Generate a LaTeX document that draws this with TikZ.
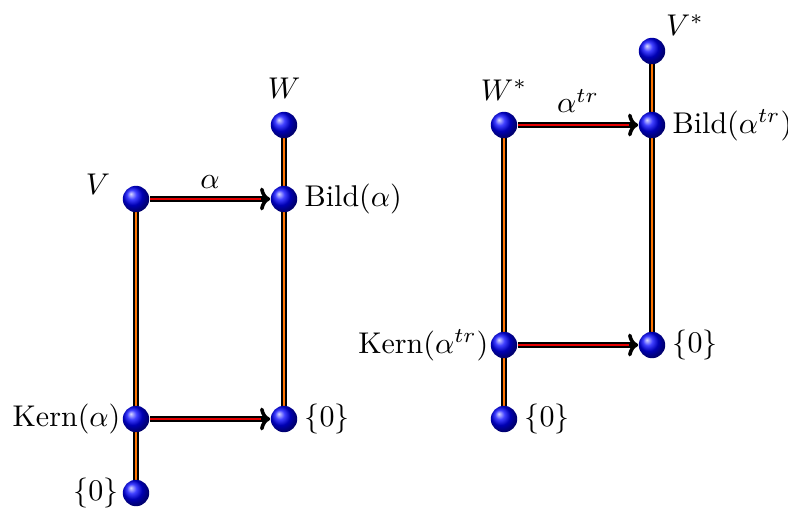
\documentclass[tikz,border=0pt]{standalone}
\usetikzlibrary{arrows.meta}
\begin{document}
\begin{tikzpicture}[x=0.3333pt,y=-0.3333pt,
  dot/.style={circle,inner sep=0pt,minimum size=8.8pt,ball color=blue},
  vline/.style={line width=1.7pt,black,postaction={draw,orange!90!red,line width=0.6pt}},
  hout/.style={line width=1.7pt,black,-{To[length=3.4pt,width=7.6pt,line width=1.2pt]}},
  hin/.style={line width=0.6pt,red!90!black,shorten >=3pt},
  lbl/.style={inner sep=0pt}]
\useasboundingbox (0,0) rectangle (788,510);
% left diagram coordinates
\coordinate (pV) at (136,199);
\coordinate (pW) at (284,125);
\coordinate (pB) at (284,199);
\coordinate (pK) at (136,419);
\coordinate (pZr) at (284,419);
\coordinate (pZb) at (136,493);
% right diagram
\coordinate (qV) at (652,51);
\coordinate (qW) at (504,125);
\coordinate (qB) at (652,125);
\coordinate (qK) at (504,345);
\coordinate (qZr) at (652,345);
\coordinate (qZb) at (504,419);
% vertical lines
\draw[vline] (pZb) -- (pV);
\draw[vline] (pZr) -- (pW);
\draw[vline] (qZb) -- (qW);
\draw[vline] (qZr) -- (qV);
% balls
\foreach \n in {pV,pW,pB,pK,pZr,pZb,qV,qW,qB,qK,qZr,qZb}
  \node[dot] (n\n) at (\n) {};
% arrows
\draw[hout] (npV) -- (npB);
\draw[hin] (npV.east) -- (npB.west);
\draw[hout] (npK) -- (npZr);
\draw[hin] (npK.east) -- (npZr.west);
\draw[hout] (nqW) -- (nqB);
\draw[hin] (nqW.east) -- (nqB.west);
\draw[hout] (nqK) -- (nqZr);
\draw[hin] (nqK.east) -- (nqZr.west);
% labels left
\node[lbl] (tV) at (98,184) {$V$};
\node[lbl] (tW) at (284,88) {$W$};
\node[lbl,anchor=west] (tB) at (304,199) {Bild$(\alpha)$};
\node[lbl,anchor=east] (tK) at (121,419) {Kern$(\alpha)$};
\node[lbl,anchor=west] (tZr) at (304,419) {$\{0\}$};
\node[lbl,anchor=east] (tZb) at (119,493) {$\{0\}$};
\node[lbl] (ta) at (210,182) {$\alpha$};
% labels right
\node[lbl] (sV) at (685,25) {$V^*$};
\node[lbl] (sW) at (504,90) {$W^*$};
\node[lbl] (sa) at (578,101) {$\alpha^{tr}$};
\node[lbl,anchor=west] (sB) at (672,125) {Bild$(\alpha^{tr})$};
\node[lbl,anchor=east] (sK) at (489,345) {Kern$(\alpha^{tr})$};
\node[lbl,anchor=west] (sZr) at (672,345) {$\{0\}$};
\node[lbl,anchor=west] (sZb) at (524,419) {$\{0\}$};
\end{tikzpicture}
\end{document}
